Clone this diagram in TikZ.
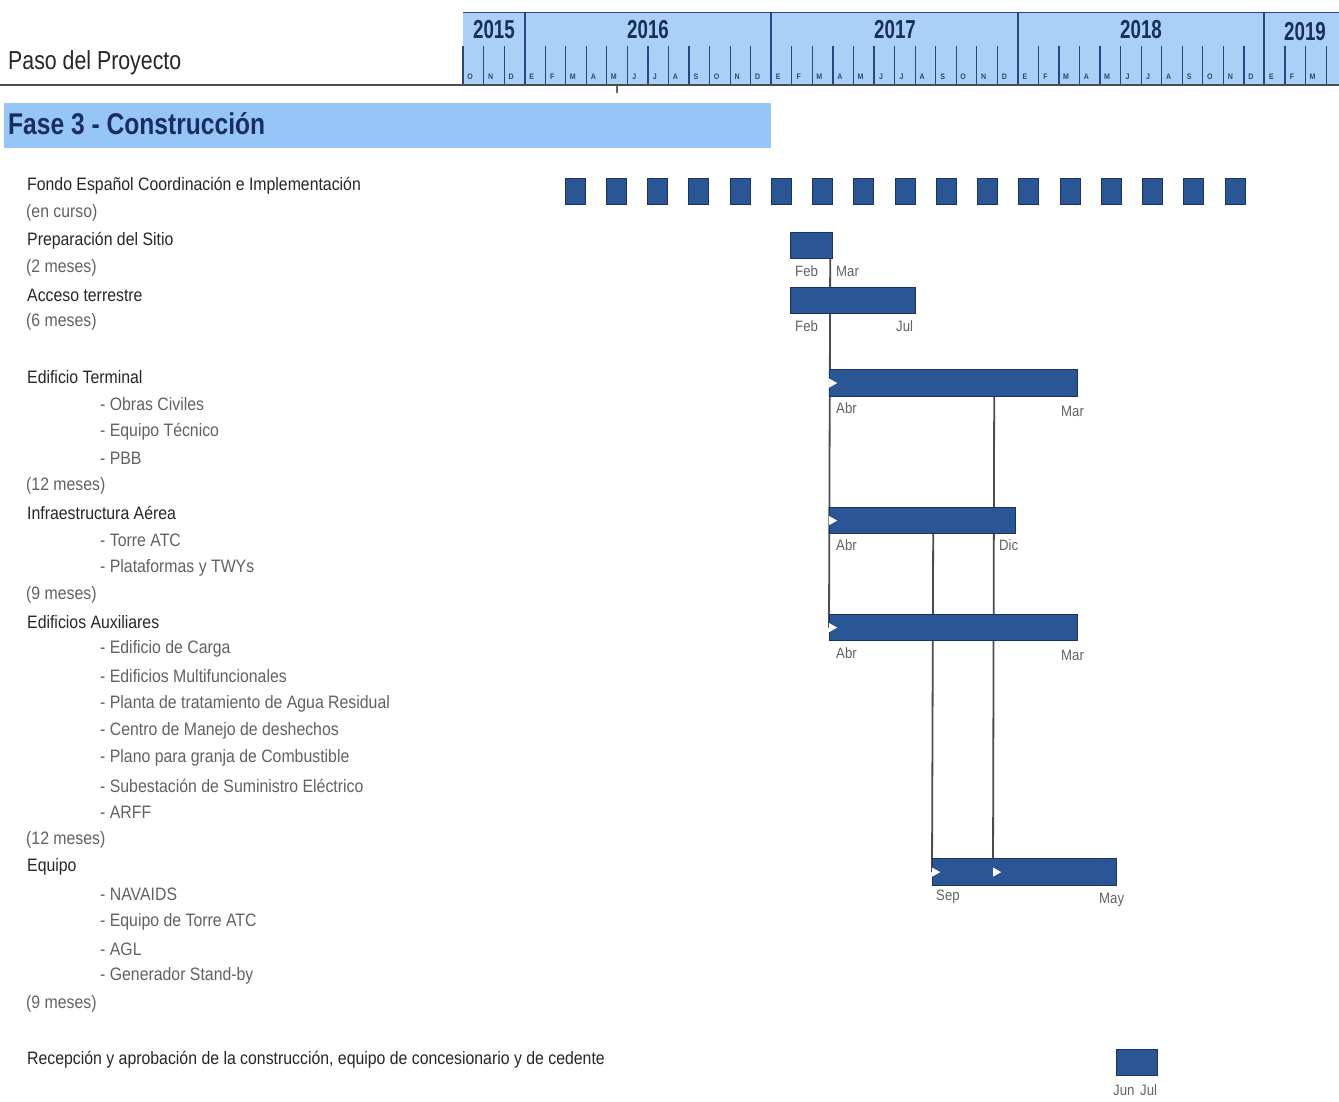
\documentclass[tikz,border=0pt]{standalone}
\usepackage{fontspec}
\setmainfont{Liberation Sans}[FakeStretch=0.88]
\newfontfamily\yearfont{Liberation Sans}[FakeStretch=0.72]
\newfontfamily\titlefont{Liberation Sans}[FakeStretch=0.82]
\usetikzlibrary{arrows.meta,positioning,shapes.geometric,backgrounds}

\definecolor{hdrblue}{RGB}{170,208,248}
\definecolor{fasblue}{RGB}{150,198,248}
\definecolor{tickblue}{RGB}{40,70,130}
\definecolor{navy}{RGB}{25,45,95}
\definecolor{barblue}{RGB}{42,86,150}
\definecolor{bardark}{RGB}{24,52,100}

\tikzset{
  bar/.style={rectangle,draw=bardark,fill=barblue,line width=1.2pt,inner sep=0pt,anchor=north west},
  task/.style={anchor=west,inner sep=0pt,text=black!85,font=\fontsize{18}{20}\selectfont},
  sub/.style={task,text=black!62},
  date/.style={anchor=west,inner sep=0pt,text=black!62,font=\fontsize{15}{16}\selectfont},
  year/.style={inner sep=0pt,text=navy,font=\yearfont\bfseries\fontsize{26}{28}\selectfont},
  link/.style={draw=black!70,line width=1.8pt},
  notch/.style={isosceles triangle,isosceles triangle stretches,fill=white,inner sep=0pt,
    minimum width=9pt,minimum height=8pt,anchor=west}
}

\begin{document}
\begin{tikzpicture}[x=1pt,y=-1pt,>={Latex}]
  \useasboundingbox (0,0) rectangle (1339,1101);
  % time scale
  \fill[hdrblue] (463,12) rectangle (1339,85);
  \draw[tickblue,line width=1pt] (463,12)--(1339,12);
  \foreach \k in {0,...,42} \draw[tickblue,line width=1.2pt] (463+20.55*\k,46)--(463+20.55*\k,84);
  \foreach \m [count=\k from 0] in {O,N,D,E,F,M,A,M,J,J,A,S,O,N,D,E,F,M,A,M,J,J,A,S,O,N,D,E,F,M,A,M,J,J,A,S,O,N,D,E,F,M}
    \node[inner sep=0pt,text=tickblue,font=\bfseries\fontsize{8}{8}\selectfont] (m\k) at (463+20.55*\k+7,77) {\m};
  \foreach \x in {525,771,1018,1264} \draw[tickblue,line width=1.8pt] (\x,12)--(\x,85);
  \node[year] (y15) at (494,30) {2015};\node[year] (y16) at (648,30) {2016};
  \node[year] (y17) at (895,30) {2017};\node[year] (y18) at (1141,30) {2018};
  \node[year] (y19) at (1305,32) {2019};
  \draw[black!70,line width=2.5pt] (0,85)--(1339,85);
  \draw[black!60,line width=1.5pt] (617,86)--(617,93);
  \node[anchor=west,inner sep=0pt,text=black!85,font=\titlefont\fontsize{26}{28}\selectfont] (paso) at (8,63) {Paso del Proyecto};
  % phase band
  \node[rectangle,fill=fasblue,inner sep=0pt,anchor=north west,minimum width=767pt,minimum height=45pt] (fase) at (4,103) {};
  \node[anchor=west,inner sep=0pt,text=navy,font=\titlefont\bfseries\fontsize{30}{32}\selectfont] (fasetxt) at (8,124) {Fase 3 - Construcción};
  % task list
  \foreach \r/\t in {0/Fondo Español Coordinación e Implementación,2/Preparación del Sitio,4/Acceso terrestre,
    7/Edificio Terminal,12/Infraestructura Aérea,16/Edificios Auxiliares,25/Equipo}
    \node[task] (h\r) at (27,186+27.25*\r) {\t};
  \node[task] (h32) at (27,1060) {Recepción y aprobación de la construcción, equipo de concesionario y de cedente};
  \foreach \r/\t in {1/(en curso),3/(2 meses),5/(6 meses),11/(12 meses),15/(9 meses),24/(12 meses),30/(9 meses)}
    \node[sub] (d\r) at (26,186+27.25*\r) {\t};
  \foreach \r/\t in {8/Obras Civiles,9/Equipo Técnico,10/PBB,13/Torre ATC,14/Plataformas y TWYs,
    17/Edificio de Carga,18/Edificios Multifuncionales,19/Planta de tratamiento de Agua Residual,
    20/Centro de Manejo de deshechos,21/Plano para granja de Combustible,22/Subestación de Suministro Eléctrico,
    23/ARFF,26/NAVAIDS,27/Equipo de Torre ATC,28/AGL,29/Generador Stand-by}
    \node[sub] (s\r) at (100,186+27.25*\r) {- \t};
  % bars
  \foreach \i in {0,...,16} \node[bar,minimum width=20pt,minimum height=26pt] (f\i) at (564.5+41.25*\i,178) {};
  \node[bar,minimum width=42pt,minimum height=26pt] (prep) at (790,232) {};
  \node[bar,minimum width=125pt,minimum height=26pt] (acceso) at (790,287) {};
  \node[bar,minimum width=248pt,minimum height=27pt] (terminal) at (829,369) {};
  \node[bar,minimum width=186pt,minimum height=26pt] (infra) at (829,507) {};
  \node[bar,minimum width=248pt,minimum height=26pt] (aux) at (829,614) {};
  \node[bar,minimum width=184pt,minimum height=27pt] (equipo) at (932,858) {};
  \node[bar,minimum width=41pt,minimum height=26pt] (recep) at (1116,1049) {};
  % links
  \begin{scope}[on background layer]
    \draw[link] ([xshift=-3pt]prep.south east)--(aux.west);
    \draw[link] ([xshift=-84pt]terminal.south east)--([xshift=61pt]equipo.west);
    \draw[link] ([xshift=-83pt]infra.south east)--(equipo.west);
  \end{scope}
  \node[notch] (n1) at (terminal.west) {};\node[notch] (n2) at (infra.west) {};
  \node[notch] (n3) at (aux.west) {};\node[notch] (n4) at (equipo.west) {};
  \node[notch] (n5) at ([xshift=61pt]equipo.west) {};
  % dates
  \node[date] (a1) at (795,271) {Feb};\node[date] (b1) at (836,271) {Mar};
  \node[date] (a2) at (795,326) {Feb};\node[date] (b2) at (896,326) {Jul};
  \node[date] (a3) at (836,408) {Abr};\node[date] (b3) at (1061,411) {Mar};
  \node[date] (a4) at (836,545) {Abr};\node[date] (b4) at (999,545) {Dic};
  \node[date] (a5) at (836,653) {Abr};\node[date] (b5) at (1061,655) {Mar};
  \node[date] (a6) at (936,897) {Sep};\node[date] (b6) at (1099,900) {May};
  \node[date] (a7) at (1113,1090) {Jun};\node[date] (b7) at (1140,1090) {Jul};
\end{tikzpicture}
\end{document}
